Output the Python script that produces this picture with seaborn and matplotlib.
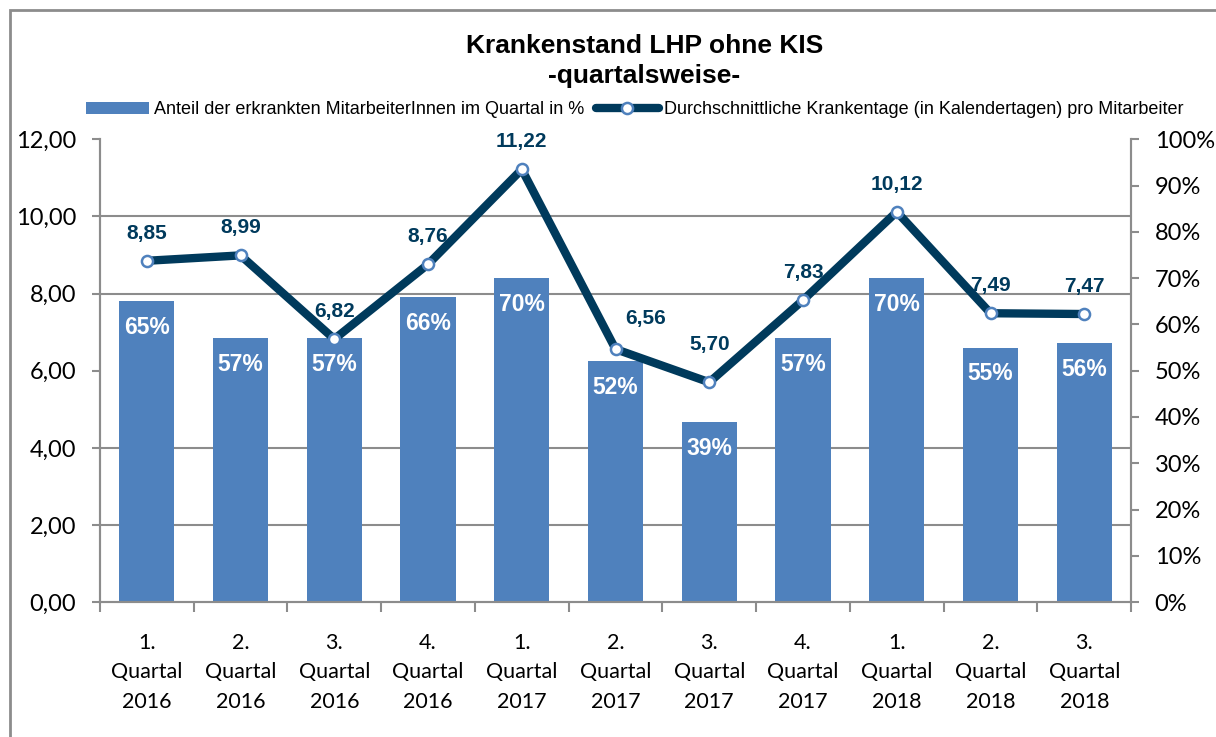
import numpy as np
import matplotlib
matplotlib.use("Agg")
import matplotlib.pyplot as plt
import seaborn as sns
from matplotlib.patches import Rectangle, Patch
from matplotlib.lines import Line2D

# data
quarters = ["1.", "2.", "3.", "4.", "1.", "2.", "3.", "4.", "1.", "2.", "3."]
years = ["2016", "2016", "2016", "2016", "2017", "2017", "2017", "2017", "2018", "2018", "2018"]
categories = [f"{q}\nQuartal\n{y}" for q, y in zip(quarters, years)]
share_pct = [65, 57, 57, 66, 70, 52, 39, 57, 70, 55, 56]
sick_days = [8.85, 8.99, 6.82, 8.76, 11.22, 6.56, 5.70, 7.83, 10.12, 7.49, 7.47]

bar_label = "Anteil der erkrankten MitarbeiterInnen im Quartal in %"
line_label = "Durchschnittliche Krankentage (in Kalendertagen) pro Mitarbeiter"

bar_col = "#4f81bd"
line_col = "#003a5c"
grid_col = "#8c8c8c"

sns.set_style("white")
plt.rcParams["font.family"] = ["Liberation Sans", "DejaVu Sans"]
plt.rcParams["text.color"] = "black"
plt.rcParams["xtick.color"] = "black"
plt.rcParams["ytick.color"] = "black"
tick_font = ["Lato", "DejaVu Sans"]

fig = plt.figure(figsize=(12.16, 7.37), dpi=100)
ax = fig.add_axes([0.0822, 0.183, 0.848, 0.628])   # bars, percent axis on the right
ax2 = ax.twinx()                                      # line, days axis on the left

# bars
sns.barplot(x=categories, y=share_pct, ax=ax, color=bar_col, width=0.59,
            saturation=1, edgecolor="none", zorder=2)
ax.set_ylim(0, 100)
ax.set_xlim(-0.5, len(categories) - 0.5)
ax.set_yticks(np.arange(0, 101, 10))
ax.set_yticklabels([f"{v}%" for v in range(0, 101, 10)], fontsize=17, family=tick_font)
ax.yaxis.tick_right()
ax.set_yticks(np.linspace(0, 100, 7), minor=True)
ax.grid(which="minor", axis="y", color=grid_col, lw=1.5, zorder=0)
ax.set_axisbelow(True)
ax.tick_params(axis="y", which="major", direction="out", length=6, width=1.5,
               color=grid_col, labelcolor="black", right=True, left=False, pad=11)
ax.tick_params(axis="y", which="minor", length=0)

# category ticks between the groups
ax.set_xticks(np.arange(len(categories)))
ax.set_xticklabels(categories, fontsize=15.5, family=tick_font, linespacing=1.6)
ax.set_xticks(np.arange(-0.5, len(categories)), minor=True)
ax.tick_params(axis="x", which="major", length=0, pad=22, labelcolor="black")
ax.tick_params(axis="x", which="minor", direction="out", length=7, width=1.5,
               color=grid_col, bottom=True)

for i, v in enumerate(share_pct):
    ax.annotate(f"{v}%", (i, v), xytext=(0, -19), textcoords="offset points",
                ha="center", va="center", color="white", fontsize=16.5, fontweight="bold")

# line
sns.lineplot(x=np.arange(len(categories)), y=sick_days, ax=ax2, color=line_col,
             lw=6, marker="o", markersize=8, markerfacecolor="white",
             markeredgecolor=bar_col, markeredgewidth=1.8, zorder=5)
ax2.set_ylim(0, 12)
ax2.set_yticks(np.arange(0, 13, 2))
ax2.set_yticklabels([f"{v:.2f}".replace(".", ",") for v in range(0, 13, 2)],
                    fontsize=17, family=tick_font)
ax2.yaxis.tick_left()
ax2.tick_params(axis="y", direction="out", length=6, width=1.5, color=grid_col,
                labelcolor="black", left=True, right=False, pad=11)
ax2.set_xlim(-0.5, len(categories) - 0.5)
ax2.tick_params(axis="x", which="both", length=0, labelbottom=False)

for i, v in enumerate(sick_days):
    # the 6,56 label sits up and to the right of its point in the original
    dx, dy = (22, 22) if i == 5 else (0, 20)
    if i == 6:
        dy = 27
    ax2.annotate(f"{v:.2f}".replace(".", ","), (i, v), xytext=(dx, dy),
                 textcoords="offset points", ha="center", va="center",
                 color=line_col, fontsize=15, fontweight="bold")

for a in (ax, ax2):
    a.set_xlabel("")
    a.set_ylabel("")
    a.spines["top"].set_visible(False)
    for s in ("left", "right", "bottom"):
        a.spines[s].set_color(grid_col)
        a.spines[s].set_linewidth(1.5)

# title and legend
fig.text(0.530, 0.938, "Krankenstand LHP ohne KIS", ha="center",
         va="center", fontsize=19, fontweight="bold")
fig.text(0.530, 0.897, "-quartalsweise-", ha="center", va="center",
         fontsize=19, fontweight="bold")

handles = [Patch(facecolor=bar_col, edgecolor="none"),
           Line2D([], [], color=line_col, lw=6, marker="o", markersize=8,
                  markerfacecolor="white", markeredgecolor=bar_col, markeredgewidth=1.8)]
fig.legend(handles, [bar_label, line_label], loc="center", ncol=2,
           bbox_to_anchor=(0.522, 0.851), frameon=False, fontsize=13,
           handlelength=3.5, handletextpad=0.3, columnspacing=0.6)

# outer chart frame (cut off at right and bottom)
fig.patches.append(Rectangle((10 / 1216, -0.1), 1.2, 1.1 - 10 / 737,
                             transform=fig.transFigure, fill=False,
                             edgecolor=grid_col, lw=2))

fig.savefig("out.png", dpi=100)
